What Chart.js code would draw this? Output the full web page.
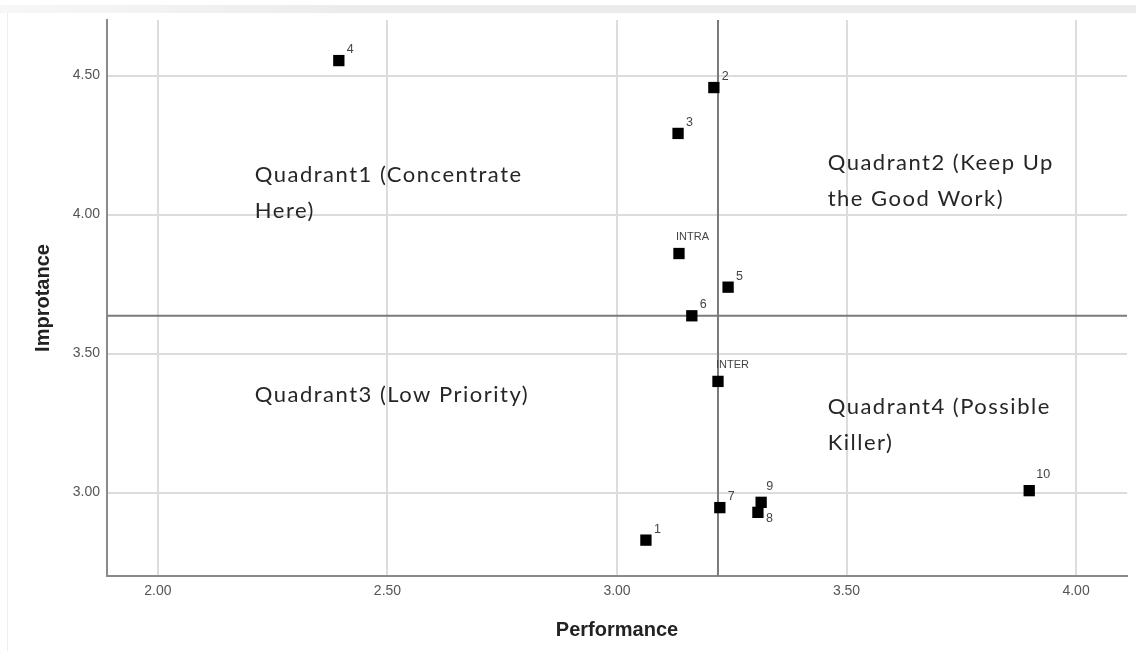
<!DOCTYPE html>
<html>
<head>
<meta charset="utf-8">
<title>Importance-Performance</title>
<script src="https://cdn.jsdelivr.net/npm/chart.js@4.4.1/dist/chart.umd.min.js"></script>
<style>
  body { margin: 0; background: #fff; }
  #wrap { position: relative; width: 1136px; height: 651px; overflow: hidden; }
  #topband { position: absolute; left: 0; top: 5px; width: 1136px; height: 8px; background: linear-gradient(90deg, #f7f7f7, #ececec 30%, #ececec); }
  #leftline { position: absolute; left: 7px; top: 13px; width: 1px; height: 638px; background: #eeeeee; }
  canvas { position: absolute; left: 0; top: 0; }
</style>
</head>
<body>
<div id="wrap">
  <div id="topband"></div>
  <div id="leftline"></div>
  <canvas id="ipaChart" width="1136" height="651"></canvas>
</div>
<script>
// values
const pointLabels = ['1', '2', '3', '4', '5', '6', '7', '8', '9', '10', 'INTRA', 'INTER'];
const performance = [3.063, 3.211, 3.133, 2.394, 3.242, 3.163, 3.224, 3.307, 3.314, 3.898, 3.135, 3.220];
const importance = [2.829, 4.457, 4.292, 4.554, 3.739, 3.636, 2.946, 2.929, 2.965, 3.007, 3.860, 3.400];

const xTicks = [2.00, 2.50, 3.00, 3.50, 4.00];
const yTicks = [3.00, 3.50, 4.00, 4.50];
const xRange = [1.889, 4.111];
const yRange = [2.70, 4.70];

// crosshair at the means
const meanPerformance = 3.220;
const meanImportance = 3.636;

const quadrantText = [
  ['Quadrant1 (Concentrate', 'Here)'],
  ['Quadrant2 (Keep Up', 'the Good Work)'],
  ['Quadrant3 (Low Priority)'],
  ['Quadrant4 (Possible', 'Killer)']
];

const points = performance.map((p, i) => ({ x: p, y: importance[i], label: pointLabels[i] }));

// where each quadrant note sits (data units, first baseline)
const quadrantAnchor = [
  { x: 2.211, y: 4.118 },
  { x: 3.459, y: 4.161 },
  { x: 2.211, y: 3.326 },
  { x: 3.459, y: 3.283 }
];

// label nudges in px, relative to the marker centre
const labelNudge = {
  '8': { dx: 8, dy: 6 },
  '9': { dx: 5, dy: -16 },
  '10': { dx: 7, dy: -16 },
  'INTRA': { dx: -3, dy: -17, small: true },
  'INTER': { dx: -2, dy: -16, small: true }
};

const annotate = {
  id: 'annotate',
  afterDatasetsDraw(chart) {
    const ctx = chart.ctx;
    const xs = chart.scales.x;
    const ys = chart.scales.y;
    const meta = chart.getDatasetMeta(0);

    ctx.save();
    ctx.textBaseline = 'middle';
    ctx.textAlign = 'left';
    ctx.fillStyle = '#444';
    meta.data.forEach((el, i) => {
      const lab = pointLabels[i];
      const n = labelNudge[lab] || { dx: 8, dy: -11 };
      ctx.font = n.small ? '11px "Liberation Sans"' : '12.5px "Liberation Sans"';
      ctx.fillText(lab, el.x + n.dx, el.y + n.dy);
    });

    ctx.font = '22px Lato';
    ctx.letterSpacing = '1.5px';
    ctx.fillStyle = '#262626';
    ctx.textBaseline = 'alphabetic';
    quadrantText.forEach((lines, q) => {
      const a = quadrantAnchor[q];
      const px = xs.getPixelForValue(a.x);
      const py = ys.getPixelForValue(a.y);
      lines.forEach((t, k) => ctx.fillText(t, px, py + k * 36));
    });
    ctx.restore();
  }
};

const ctx = document.getElementById('ipaChart').getContext('2d');
new Chart(ctx, {
  type: 'scatter',
  data: {
    datasets: [
      {
        label: 'Attributes',
        data: points,
        pointStyle: 'rect',
        pointRadius: 8,
        pointBackgroundColor: '#000',
        pointBorderWidth: 0,
        order: 0
      },
      {
        label: 'Mean performance',
        data: [{ x: meanPerformance, y: yRange[0] }, { x: meanPerformance, y: yRange[1] }],
        showLine: true,
        pointRadius: 0,
        borderColor: '#7b7b7b',
        borderWidth: 2,
        order: 1
      },
      {
        label: 'Mean importance',
        data: [{ x: xRange[0], y: meanImportance }, { x: xRange[1], y: meanImportance }],
        showLine: true,
        pointRadius: 0,
        borderColor: '#7b7b7b',
        borderWidth: 2,
        order: 1
      }
    ]
  },
  options: {
    responsive: false,
    animation: false,
    layout: { padding: { top: 20, right: 9, left: 0, bottom: 0 } },
    plugins: {
      legend: { display: false },
      tooltip: { enabled: false }
    },
    scales: {
      x: {
        type: 'linear',
        min: xRange[0],
        max: xRange[1],
        afterBuildTicks: s => { s.ticks = xTicks.map(v => ({ value: v })); },
        afterFit: s => { s.height = 75; },
        grid: { color: '#dcdcdc', lineWidth: 2, drawTicks: false },
        border: { color: '#8a8a8a', width: 2 },
        ticks: {
          padding: 7,
          color: '#555',
          font: { family: 'Liberation Sans', size: 14 },
          callback: v => v.toFixed(2)
        },
        title: {
          display: true,
          text: 'Performance',
          color: '#222',
          font: { family: 'Liberation Sans', size: 20, weight: 'bold' },
          padding: { top: 0, bottom: 9 }
        }
      },
      y: {
        type: 'linear',
        min: yRange[0],
        max: yRange[1],
        afterBuildTicks: s => { s.ticks = yTicks.map(v => ({ value: v })); },
        afterFit: s => { s.width = 107; },
        grid: { color: '#dcdcdc', lineWidth: 2, drawTicks: false },
        border: { color: '#8a8a8a', width: 2 },
        ticks: {
          padding: 7,
          color: '#555',
          font: { family: 'Liberation Sans', size: 14 },
          callback: v => v.toFixed(2)
        },
        title: {
          display: true,
          text: 'Improtance',
          color: '#222',
          font: { family: 'Liberation Sans', size: 20, weight: 'bold' },
          padding: { top: 31, bottom: 0 }
        }
      }
    }
  },
  plugins: [annotate]
});
</script>
</body>
</html>
